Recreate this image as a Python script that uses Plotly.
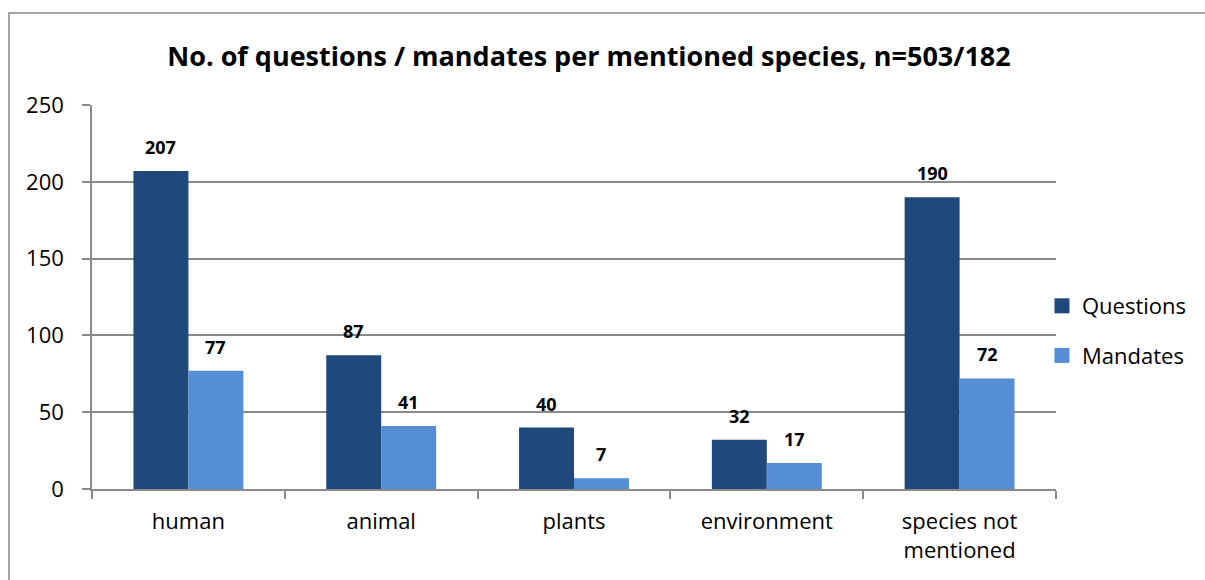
import plotly.graph_objects as go

categories = ["human", "animal", "plants", "environment", "species not<br>mentioned"]
questions = [207, 87, 40, 32, 190]
mandates = [77, 41, 7, 17, 72]
y_ticks = [0, 50, 100, 150, 200, 250]

title_text = "No. of questions / mandates per mentioned species, n=503/182"

FONT = "'Open Sans', Lato, sans-serif"
DARK = "#1F497D"
LIGHT = "#558ED5"
GRID = "#8a8a8a"

W, H = 1205, 580
L, R, T, B = 92, 149, 105, 91
PW, PH = W - L - R, H - T - B

fig = go.Figure()
fig.add_trace(go.Bar(x=categories, y=questions, name="Questions",
                     marker=dict(color=DARK, line=dict(width=0)),
                     showlegend=False))
fig.add_trace(go.Bar(x=categories, y=mandates, name="Mandates",
                     marker=dict(color=LIGHT, line=dict(width=0)),
                     showlegend=False))

# legend entries with larger square swatches
for name, col, grp in (("Questions", DARK, "q"), ("Mandates", LIGHT, "m")):
    fig.add_trace(go.Scatter(x=[None], y=[None], mode="markers", name=name,
                             legendgroup=grp,
                             marker=dict(symbol="square", size=15, color=col,
                                         line=dict(width=0))))

# value labels above each bar
bar_px = PW / len(categories) * (1 - 0.43) / 2
annotations = []
for cat, q, m in zip(categories, questions, mandates):
    for val, sx in ((q, -bar_px / 2), (m, bar_px / 2)):
        annotations.append(dict(x=cat, y=val, xref="x", yref="y", text=f"<b>{val}</b>",
                                showarrow=False, xshift=sx, yshift=24, yanchor="middle",
                                font=dict(family=FONT, size=18, color="black")))


def px_x(p):
    return (p - L) / PW


def px_y(p):
    return (H - B - p) / PH


# outer chart frame (left and top edges visible)
shapes = [dict(type="rect", xref="paper", yref="paper",
               x0=px_x(9), x1=px_x(1215), y0=px_y(13), y1=px_y(600),
               line=dict(color="#868686", width=1.5), fillcolor="rgba(0,0,0,0)", layer="below")]

fig.update_layout(
    width=W, height=H,
    margin=dict(l=L, r=R, t=T, b=B, autoexpand=False),
    paper_bgcolor="white", plot_bgcolor="white",
    barmode="group", bargap=0.43, bargroupgap=0,
    title=dict(text=f"<b>{title_text}</b>", x=px_x(589), xanchor="center",
               y=1 - 57 / H, yanchor="middle",
               xref="paper", yref="container",
               font=dict(family=FONT, size=27, color="black")),
    font=dict(family=FONT, size=22, color="black"),
    legend=dict(x=px_x(1042), xanchor="left", y=px_y(331), yanchor="middle",
                font=dict(family=FONT, size=22, color="black"),
                itemsizing="trace",
                tracegroupgap=18, bgcolor="rgba(0,0,0,0)"),
    annotations=annotations,
    shapes=shapes,
)

fig.update_xaxes(type="category", showline=True, linecolor=GRID, linewidth=1.5,
                 ticks="outside", tickson="boundaries", ticklen=8, tickcolor=GRID,
                 tickwidth=1.5, showgrid=False, ticklabelstandoff=12,
                 tickfont=dict(family=FONT, size=22, color="black"))
fig.update_yaxes(range=[0, 250], tickvals=y_ticks, showline=True, linecolor=GRID,
                 linewidth=1.5, ticks="outside", ticklen=8, tickcolor=GRID, tickwidth=1.5,
                 showgrid=True, gridcolor=GRID, gridwidth=1.5, zeroline=False,
                 ticklabelstandoff=14,
                 tickfont=dict(family=FONT, size=22, color="black"))

fig.write_html("out.html")
